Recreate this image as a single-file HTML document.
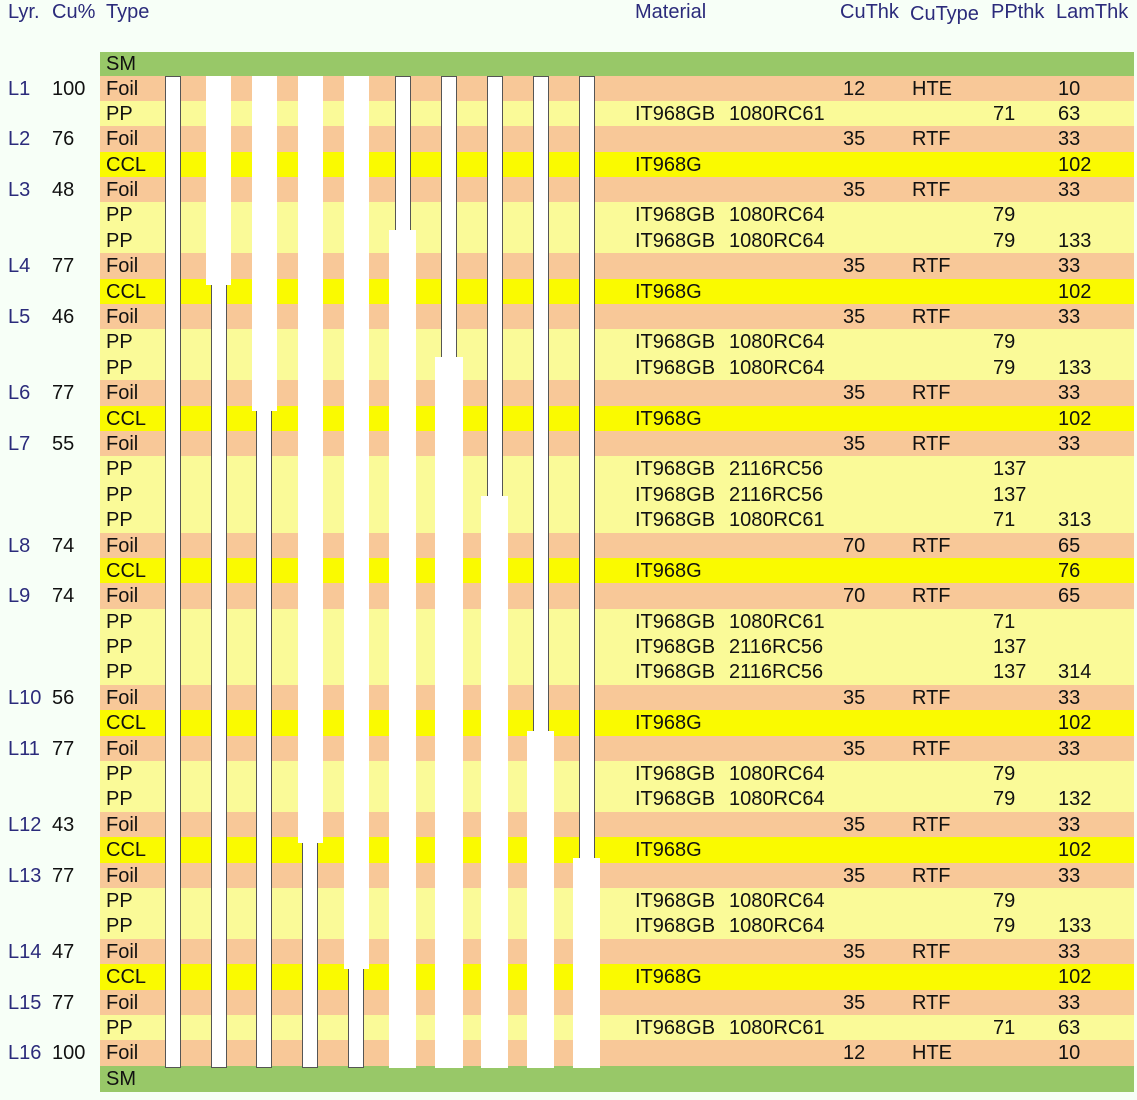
<!DOCTYPE html>
<html><head><meta charset="utf-8"><style>
body{margin:0;width:1137px;height:1100px;background:#f7fff7;position:relative;overflow:hidden;font-family:"Liberation Sans",sans-serif;font-size:20px;color:#111}
.h{position:absolute;color:#2b2b7b;top:0;line-height:24px}
.band{position:absolute;left:100px;width:1034px}
#rows{position:absolute;left:0;top:75.5px;width:1137px}
.r{position:relative;height:25.4px;line-height:26px}
.r span{position:absolute;top:0}
.r .bg{left:100px;width:1034px;height:25.4px}
.F .bg{background:#f8c898}.P .bg{background:#fafa98}.C .bg{background:#fafa00}
.l{left:8px;color:#2b2b7b}.c{left:52px}.t{left:106px}.m1{left:635px}.m2{left:729px}.ct{left:843px}.cy{left:912px}.pp{left:993px}.lt{left:1058px}
.thin{position:absolute;width:14px;border:1px solid #555;background:#fff;top:76px;height:990px}
.thk{position:absolute;background:#fff}
</style></head><body>
<div class="h" style="left:8px">Lyr.</div>
<div class="h" style="left:52px">Cu%</div>
<div class="h" style="left:106px">Type</div>
<div class="h" style="left:635px">Material</div>
<div class="h" style="left:840px">CuThk</div>
<div class="h" style="left:910px;top:2px">CuType</div>
<div class="h" style="left:991px">PPthk</div>
<div class="h" style="left:1056px">LamThk</div>
<div class="band" style="top:52px;height:24px;background:#98c868;line-height:24px"><span style="margin-left:6px">SM</span></div>
<div class="band" style="top:1066px;height:26px;background:#98c868;line-height:26px"><span style="margin-left:6px">SM</span></div>
<div id="rows">
<div class="r F"><span class="bg"></span><span class="l">L1</span><span class="c">100</span><span class="t">Foil</span><span class="ct">12</span><span class="cy">HTE</span><span class="lt">10</span></div>
<div class="r P"><span class="bg"></span><span class="t">PP</span><span class="m1">IT968GB</span><span class="m2">1080RC61</span><span class="pp">71</span><span class="lt">63</span></div>
<div class="r F"><span class="bg"></span><span class="l">L2</span><span class="c">76</span><span class="t">Foil</span><span class="ct">35</span><span class="cy">RTF</span><span class="lt">33</span></div>
<div class="r C"><span class="bg"></span><span class="t">CCL</span><span class="m1">IT968G</span><span class="lt">102</span></div>
<div class="r F"><span class="bg"></span><span class="l">L3</span><span class="c">48</span><span class="t">Foil</span><span class="ct">35</span><span class="cy">RTF</span><span class="lt">33</span></div>
<div class="r P"><span class="bg"></span><span class="t">PP</span><span class="m1">IT968GB</span><span class="m2">1080RC64</span><span class="pp">79</span></div>
<div class="r P"><span class="bg"></span><span class="t">PP</span><span class="m1">IT968GB</span><span class="m2">1080RC64</span><span class="pp">79</span><span class="lt">133</span></div>
<div class="r F"><span class="bg"></span><span class="l">L4</span><span class="c">77</span><span class="t">Foil</span><span class="ct">35</span><span class="cy">RTF</span><span class="lt">33</span></div>
<div class="r C"><span class="bg"></span><span class="t">CCL</span><span class="m1">IT968G</span><span class="lt">102</span></div>
<div class="r F"><span class="bg"></span><span class="l">L5</span><span class="c">46</span><span class="t">Foil</span><span class="ct">35</span><span class="cy">RTF</span><span class="lt">33</span></div>
<div class="r P"><span class="bg"></span><span class="t">PP</span><span class="m1">IT968GB</span><span class="m2">1080RC64</span><span class="pp">79</span></div>
<div class="r P"><span class="bg"></span><span class="t">PP</span><span class="m1">IT968GB</span><span class="m2">1080RC64</span><span class="pp">79</span><span class="lt">133</span></div>
<div class="r F"><span class="bg"></span><span class="l">L6</span><span class="c">77</span><span class="t">Foil</span><span class="ct">35</span><span class="cy">RTF</span><span class="lt">33</span></div>
<div class="r C"><span class="bg"></span><span class="t">CCL</span><span class="m1">IT968G</span><span class="lt">102</span></div>
<div class="r F"><span class="bg"></span><span class="l">L7</span><span class="c">55</span><span class="t">Foil</span><span class="ct">35</span><span class="cy">RTF</span><span class="lt">33</span></div>
<div class="r P"><span class="bg"></span><span class="t">PP</span><span class="m1">IT968GB</span><span class="m2">2116RC56</span><span class="pp">137</span></div>
<div class="r P"><span class="bg"></span><span class="t">PP</span><span class="m1">IT968GB</span><span class="m2">2116RC56</span><span class="pp">137</span></div>
<div class="r P"><span class="bg"></span><span class="t">PP</span><span class="m1">IT968GB</span><span class="m2">1080RC61</span><span class="pp">71</span><span class="lt">313</span></div>
<div class="r F"><span class="bg"></span><span class="l">L8</span><span class="c">74</span><span class="t">Foil</span><span class="ct">70</span><span class="cy">RTF</span><span class="lt">65</span></div>
<div class="r C"><span class="bg"></span><span class="t">CCL</span><span class="m1">IT968G</span><span class="lt">76</span></div>
<div class="r F"><span class="bg"></span><span class="l">L9</span><span class="c">74</span><span class="t">Foil</span><span class="ct">70</span><span class="cy">RTF</span><span class="lt">65</span></div>
<div class="r P"><span class="bg"></span><span class="t">PP</span><span class="m1">IT968GB</span><span class="m2">1080RC61</span><span class="pp">71</span></div>
<div class="r P"><span class="bg"></span><span class="t">PP</span><span class="m1">IT968GB</span><span class="m2">2116RC56</span><span class="pp">137</span></div>
<div class="r P"><span class="bg"></span><span class="t">PP</span><span class="m1">IT968GB</span><span class="m2">2116RC56</span><span class="pp">137</span><span class="lt">314</span></div>
<div class="r F"><span class="bg"></span><span class="l">L10</span><span class="c">56</span><span class="t">Foil</span><span class="ct">35</span><span class="cy">RTF</span><span class="lt">33</span></div>
<div class="r C"><span class="bg"></span><span class="t">CCL</span><span class="m1">IT968G</span><span class="lt">102</span></div>
<div class="r F"><span class="bg"></span><span class="l">L11</span><span class="c">77</span><span class="t">Foil</span><span class="ct">35</span><span class="cy">RTF</span><span class="lt">33</span></div>
<div class="r P"><span class="bg"></span><span class="t">PP</span><span class="m1">IT968GB</span><span class="m2">1080RC64</span><span class="pp">79</span></div>
<div class="r P"><span class="bg"></span><span class="t">PP</span><span class="m1">IT968GB</span><span class="m2">1080RC64</span><span class="pp">79</span><span class="lt">132</span></div>
<div class="r F"><span class="bg"></span><span class="l">L12</span><span class="c">43</span><span class="t">Foil</span><span class="ct">35</span><span class="cy">RTF</span><span class="lt">33</span></div>
<div class="r C"><span class="bg"></span><span class="t">CCL</span><span class="m1">IT968G</span><span class="lt">102</span></div>
<div class="r F"><span class="bg"></span><span class="l">L13</span><span class="c">77</span><span class="t">Foil</span><span class="ct">35</span><span class="cy">RTF</span><span class="lt">33</span></div>
<div class="r P"><span class="bg"></span><span class="t">PP</span><span class="m1">IT968GB</span><span class="m2">1080RC64</span><span class="pp">79</span></div>
<div class="r P"><span class="bg"></span><span class="t">PP</span><span class="m1">IT968GB</span><span class="m2">1080RC64</span><span class="pp">79</span><span class="lt">133</span></div>
<div class="r F"><span class="bg"></span><span class="l">L14</span><span class="c">47</span><span class="t">Foil</span><span class="ct">35</span><span class="cy">RTF</span><span class="lt">33</span></div>
<div class="r C"><span class="bg"></span><span class="t">CCL</span><span class="m1">IT968G</span><span class="lt">102</span></div>
<div class="r F"><span class="bg"></span><span class="l">L15</span><span class="c">77</span><span class="t">Foil</span><span class="ct">35</span><span class="cy">RTF</span><span class="lt">33</span></div>
<div class="r P"><span class="bg"></span><span class="t">PP</span><span class="m1">IT968GB</span><span class="m2">1080RC61</span><span class="pp">71</span><span class="lt">63</span></div>
<div class="r F"><span class="bg"></span><span class="l">L16</span><span class="c">100</span><span class="t">Foil</span><span class="ct">12</span><span class="cy">HTE</span><span class="lt">10</span></div>
</div>
<div class="thin" style="left:165px"></div>
<div class="thin" style="left:211px"></div>
<div class="thin" style="left:256px"></div>
<div class="thin" style="left:302px"></div>
<div class="thin" style="left:348px"></div>
<div class="thin" style="left:395px"></div>
<div class="thin" style="left:441px"></div>
<div class="thin" style="left:487px"></div>
<div class="thin" style="left:533px"></div>
<div class="thin" style="left:579px"></div>
<div class="thk" style="left:206px;width:25px;top:76px;height:209px"></div>
<div class="thk" style="left:252px;width:25px;top:76px;height:335px"></div>
<div class="thk" style="left:298px;width:25px;top:76px;height:767px"></div>
<div class="thk" style="left:344px;width:25px;top:76px;height:893px"></div>
<div class="thk" style="left:389px;width:27px;top:230px;height:838px"></div>
<div class="thk" style="left:435px;width:28px;top:357px;height:711px"></div>
<div class="thk" style="left:481px;width:27px;top:496px;height:572px"></div>
<div class="thk" style="left:527px;width:27px;top:731px;height:337px"></div>
<div class="thk" style="left:573px;width:27px;top:858px;height:210px"></div>
</body></html>
